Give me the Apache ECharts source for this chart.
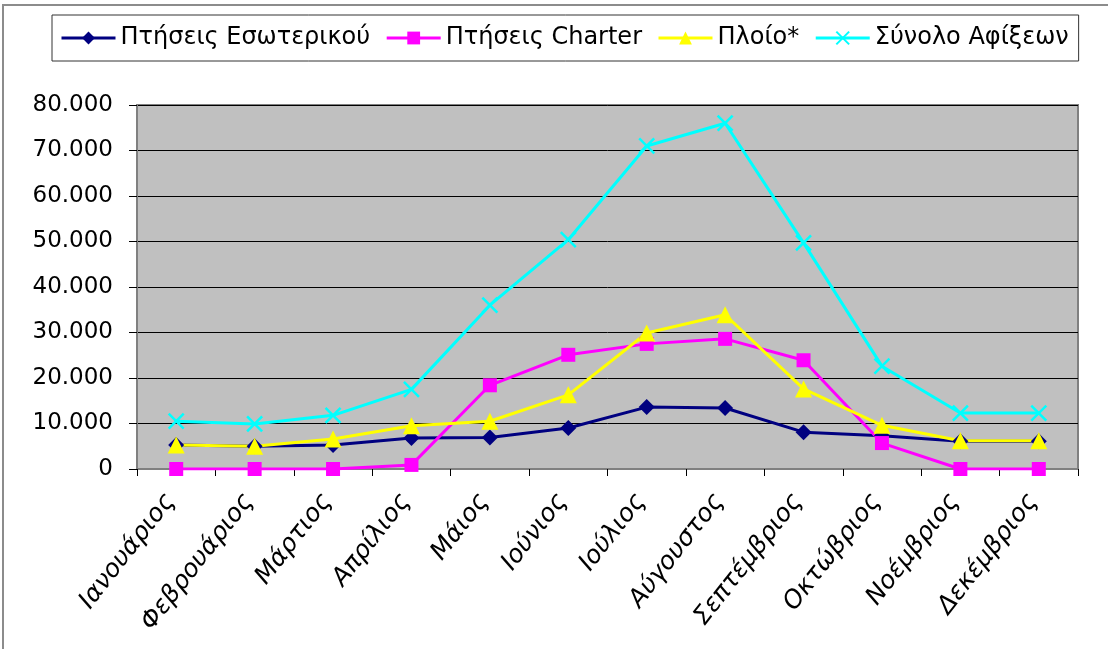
<!DOCTYPE html>
<html>
<head>
<meta charset="utf-8">
<script src="https://cdn.jsdelivr.net/npm/echarts@6/dist/echarts.min.js"></script>
<style>
  html, body { margin: 0; padding: 0; background: #fff; }
  #chart { width: 1108px; height: 649px; }
</style>
</head>
<body>
<div id="chart"></div>
<script>
// μήνες
const months = ['Ιανουάριος', 'Φεβρουάριος', 'Μάρτιος', 'Απρίλιος', 'Μάιος', 'Ιούνιος',
  'Ιούλιος', 'Αύγουστος', 'Σεπτέμβριος', 'Οκτώβριος', 'Νοέμβριος', 'Δεκέμβριος'];

const seriesNames = ['Πτήσεις Εσωτερικού', 'Πτήσεις Charter', 'Πλοίο*', 'Σύνολο Αφίξεων'];

const domestic = [5300, 5000, 5300, 6800, 6900, 9000, 13600, 13400, 8100, 7300, 6100, 6100];
const charter  = [0, 0, 0, 900, 18400, 25100, 27500, 28600, 23900, 5700, 0, 0];
const ship     = [5300, 5000, 6600, 9500, 10500, 16300, 29900, 33900, 17600, 9600, 6200, 6200];
const total    = [10500, 9900, 11800, 17500, 36000, 50400, 71000, 76000, 49700, 22600, 12300, 12300];

const yTicks = { min: 0, max: 80000, step: 10000 };

const font = 'DejaVu Sans';
const xMark = 'path://M0,0L10,10M10,0L0,10';

function lineSeries(name, data, color, symbol, size) {
  return {
    name: name,
    type: 'line',
    data: data,
    symbol: symbol,
    symbolSize: size,
    lineStyle: { color: color, width: 3 },
    itemStyle: { color: color, borderColor: color, borderWidth: symbol === xMark ? 2.5 : 0 },
    emphasis: { disabled: true },
    animation: false
  };
}

let myChart = echarts.init(document.getElementById('chart'));
myChart.setOption({
  backgroundColor: '#fff',
  textStyle: { fontFamily: font },
  graphic: [{
    type: 'rect',
    shape: { x: 3, y: 5, width: 1200, height: 700 },
    style: { fill: 'none', stroke: '#8c8c8c', lineWidth: 2 },
    silent: true
  }],
  legend: {
    data: seriesNames,
    left: 52,
    top: 15,
    padding: [11, 10, 11, 8],
    itemGap: 15,
    itemWidth: 54,
    itemHeight: 16,
    borderColor: '#333',
    borderWidth: 1,
    lineStyle: { width: 3 },
    textStyle: { fontFamily: font, fontSize: 24, color: '#000', padding: [0, 0, 0, 0] }
  },
  grid: {
    left: 137,
    right: 30,
    top: 105,
    bottom: 180,
    show: true,
    backgroundColor: '#C0C0C0',
    borderColor: '#808080',
    borderWidth: 2
  },
  xAxis: {
    type: 'category',
    data: months,
    boundaryGap: true,
    axisLine: { lineStyle: { color: '#808080', width: 1 } },
    axisTick: { show: true, length: 7, lineStyle: { color: '#000' } },
    axisLabel: {
      rotate: 52,
      interval: 0,
      margin: 20,
      fontFamily: font,
      fontSize: 25,
      fontStyle: 'italic',
      color: '#000',
      padding: [0, 10, 0, 0]
    },
    splitLine: { show: false }
  },
  yAxis: {
    type: 'value',
    min: yTicks.min,
    max: yTicks.max,
    interval: yTicks.step,
    axisLine: { show: true, lineStyle: { color: '#808080' } },
    axisTick: { show: true, length: 8, lineStyle: { color: '#000' } },
    axisLabel: {
      margin: 24,
      fontFamily: font,
      fontSize: 23,
      color: '#000',
      formatter: function (v) {
        return v === 0 ? '0' : (v / 1000) + '.000';
      }
    },
    splitLine: { show: true, lineStyle: { color: '#000', width: 1 } }
  },
  series: [
    lineSeries(seriesNames[0], domestic, '#000080', 'diamond', 16),
    lineSeries(seriesNames[1], charter, '#FF00FF', 'rect', 14),
    lineSeries(seriesNames[2], ship, '#FFFF00', 'triangle', 17),
    lineSeries(seriesNames[3], total, '#00FFFF', xMark, 15)
  ]
});
</script>
</body>
</html>
